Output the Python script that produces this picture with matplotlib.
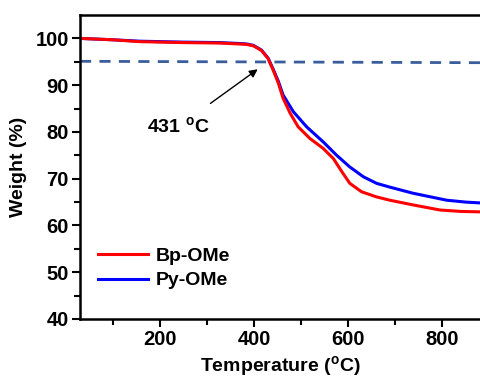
import matplotlib
matplotlib.use("Agg")
import matplotlib.pyplot as plt

plt.rcParams["font.family"] = ["Liberation Sans", "DejaVu Sans"]
plt.rcParams["font.weight"] = "bold"
plt.rcParams["mathtext.fontset"] = "custom"
plt.rcParams["mathtext.rm"] = "Liberation Sans:bold"
plt.rcParams["mathtext.bf"] = "Liberation Sans:bold"

# TGA curves
bp_temp = [30, 100, 157, 250, 328, 370, 385, 399, 406, 416, 430, 441, 452, 462,
           477, 494, 519, 547, 569, 587, 604, 629, 661, 689, 738, 796, 840, 885]
bp_weight = [100.0, 99.7, 99.3, 99.1, 99.0, 98.8, 98.7, 98.4, 98.0, 97.4, 95.7,
             93.2, 90.4, 87.2, 84.0, 81.1, 78.6, 76.5, 74.3, 71.5, 69.0, 67.2,
             66.1, 65.4, 64.4, 63.3, 63.0, 62.9]
py_temp = [30, 100, 157, 250, 328, 370, 385, 399, 406, 416, 430, 441, 452, 462,
           484, 512, 547, 576, 604, 633, 661, 689, 738, 810, 850, 885]
py_weight = [100.0, 99.7, 99.4, 99.2, 99.1, 98.9, 98.8, 98.5, 98.1, 97.5, 95.8,
             93.4, 90.8, 87.9, 84.3, 81.1, 77.9, 75.0, 72.5, 70.4, 69.0, 68.2,
             66.9, 65.4, 65.0, 64.8]
ref_temp = [30, 885]
ref_weight = [95.1, 94.8]

fig = plt.figure(figsize=(4.81, 3.79), dpi=100)
ax = fig.add_axes([80 / 481, 60 / 379, 401 / 481, 304 / 379])

ax.plot(ref_temp, ref_weight, "--", color="#3a5e9c", lw=2.0, dashes=(4, 3))
ax.plot(py_temp, py_weight, color="#0000ff", lw=2.2, label="Py-OMe")
ax.plot(bp_temp, bp_weight, color="#ff0000", lw=2.2, label="Bp-OMe")

ax.annotate("431 $^{\\rm o}$C", xy=(408, 93.4), xytext=(240, 81.2),
            fontsize=14, fontweight="bold", ha="center", va="center",
            arrowprops=dict(arrowstyle="-|>", color="black", lw=1.0,
                            shrinkA=12, shrinkB=0, mutation_scale=12))

ax.set_xlim(30, 883)
ax.set_ylim(40, 105)
ax.set_xticks([200, 400, 600, 800])
ax.set_xticks([100, 300, 500, 700], minor=True)
ax.set_yticks([40, 50, 60, 70, 80, 90, 100])
ax.set_yticks([45, 55, 65, 75, 85, 95], minor=True)
ax.tick_params(labelsize=14.5, width=1.5, length=6, direction="out", pad=2)
ax.tick_params(which="minor", width=1.5, length=4, direction="out")
for lab in ax.get_xticklabels() + ax.get_yticklabels():
    lab.set_fontweight("bold")
for side in ["left", "bottom", "top"]:
    ax.spines[side].set_linewidth(1.8)
ax.spines["right"].set_visible(False)

ax.set_xlabel("Temperature ($^{\\rm o}$C)", fontsize=14, fontweight="bold", labelpad=4)
ax.set_ylabel("Weight (%)", fontsize=14, fontweight="bold", labelpad=6)

handles, labels = ax.get_legend_handles_labels()
ax.legend(handles[::-1], labels[::-1], loc="lower left", bbox_to_anchor=(0.0, 0.04),
          frameon=False, handlelength=2.6, handletextpad=0.4,
          labelspacing=0.35, prop={"weight": "bold", "size": 14})

fig.savefig("out.png", dpi=100)
